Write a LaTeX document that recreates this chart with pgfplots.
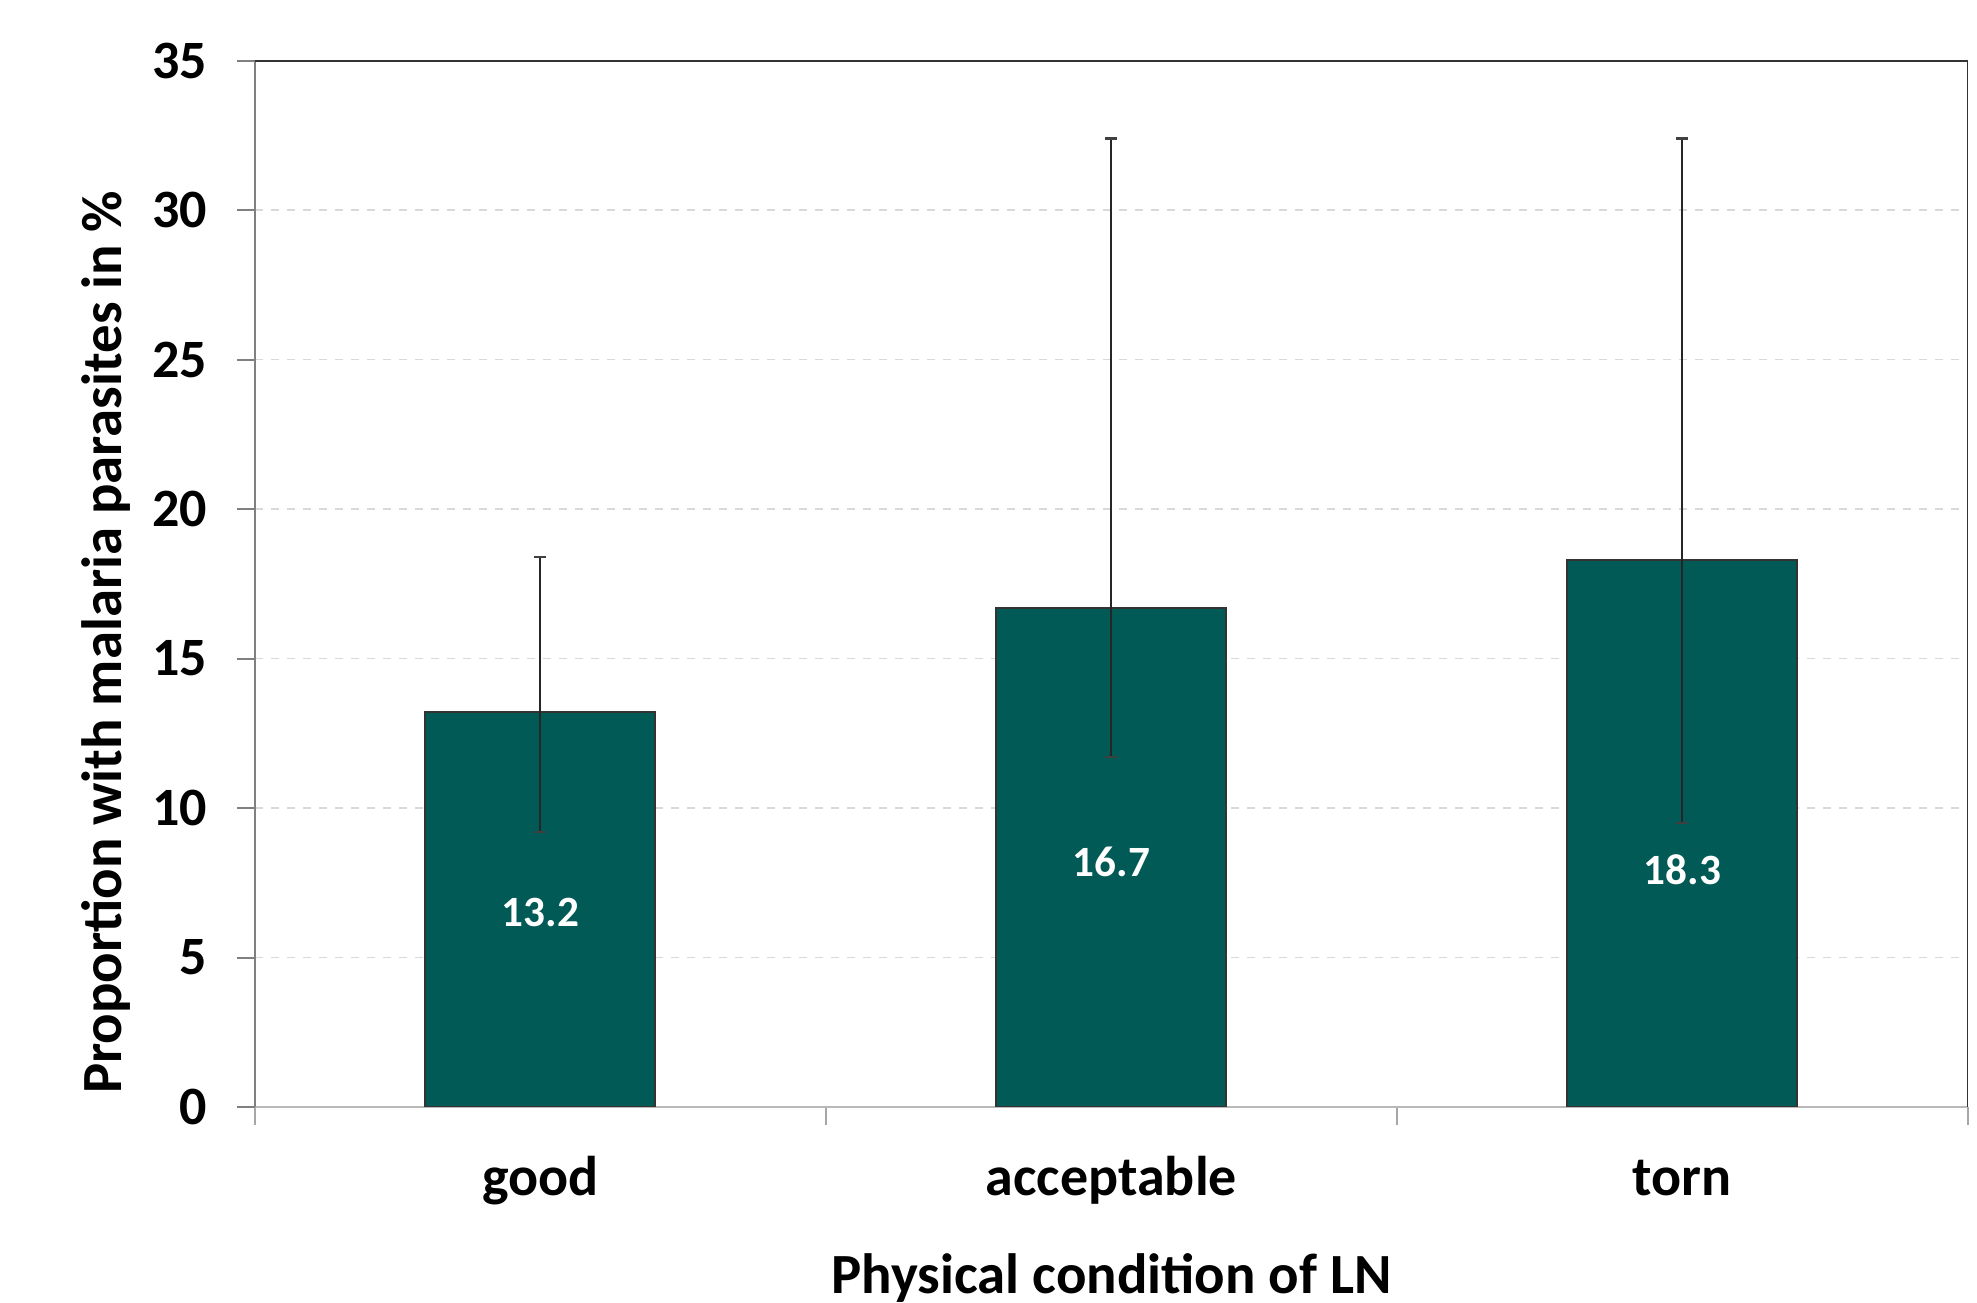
\documentclass[border=0pt]{standalone}
\usepackage{fontspec}
\setmainfont{Carlito}
\usepackage{pgfplots}
\usepackage{pgfplotstable}
\pgfplotsset{compat=1.18}

\definecolor{barteal}{RGB}{2,90,86}
\definecolor{gridgray}{RGB}{217,217,217}

% x, proportion, upper and lower error, height of the value label
\pgfplotstableread{
x  y     ep    em   ly
0  13.2  5.2   4.0  6.5
1  16.7  15.7  5.0  8.2
2  18.3  14.1  8.8  7.95
}\ldata

\begin{document}
\begin{tikzpicture}[x=1pt,y=1pt]
\useasboundingbox (-63.75pt,-49pt) rectangle (430.5pt,276.75pt);
\begin{axis}[
  scale only axis,
  width=428.2pt, height=261.6pt,
  xmin=-0.5, xmax=2.5,
  ymin=0, ymax=35,
  ytick={0,5,...,35},
  xtick={0,1,2},
  xticklabels={good,acceptable,torn},
  minor xtick={-0.5,0.5,1.5,2.5},
  major x tick style={draw=none},
  minor x tick style={gray!70, line width=0.5pt},
  y tick style={gray, line width=0.5pt},
  tick align=outside,
  major tick length=4.5pt,
  minor tick length=4.5pt,
  axis x line*=bottom,
  axis y line*=left,
  x axis line style={gray!55, line width=0.6pt, -},
  y axis line style={gray, line width=0.5pt, -},
  ymajorgrids,
  grid style={gridgray, dash pattern=on 2pt off 2pt, line width=0.4pt},
  /pgf/number format/assume math mode=true,
  yticklabel style={font=\bfseries\fontsize{13.5}{16}\selectfont, xshift=-4pt},
  xticklabel style={font=\bfseries\fontsize{14}{17}\selectfont, text height=10pt, text depth=3pt, yshift=-4pt},
  xlabel={Physical condition of LN},
  ylabel={Proportion with malaria parasites in \%},
  xlabel style={font=\bfseries\fontsize{14.2}{17}\selectfont, at={(axis description cs:0.5,0)}, anchor=center, yshift=-42.8pt},
  every axis y label/.style={at={(axis description cs:-0.087,0.444)}, rotate=90, anchor=center, font=\bfseries\fontsize{14.2}{17}\selectfont},
]
\addplot[
  ybar, bar width=57.5pt,
  fill=barteal, draw=black!80, line width=0.5pt,
  visualization depends on={y \as \rawy},
  visualization depends on={\thisrow{ly} \as \labely},
  nodes near coords,
  nodes near coords style={font=\bfseries\fontsize{10.8}{13}\selectfont, text=white, anchor=center,
    shift={(axis direction cs:0,\labely-\rawy)}},
  /pgf/number format/.cd, fixed, fixed zerofill, precision=1, assume math mode=true,
] table[x=x, y=y] {\ldata};
\addplot[
  draw=none, mark=none,
  error bars/.cd, y dir=both, y explicit,
  error bar style={black!85, line width=0.5pt},
  error mark options={black!75, line width=0.6pt, mark size=1.5pt, rotate=90},
] table[x=x, y=y, y error plus=ep, y error minus=em] {\ldata};
\draw[black!80, line width=0.5pt] (rel axis cs:0,1) -- (rel axis cs:1,1) -- (rel axis cs:1,0);
\end{axis}
\end{tikzpicture}
\end{document}
